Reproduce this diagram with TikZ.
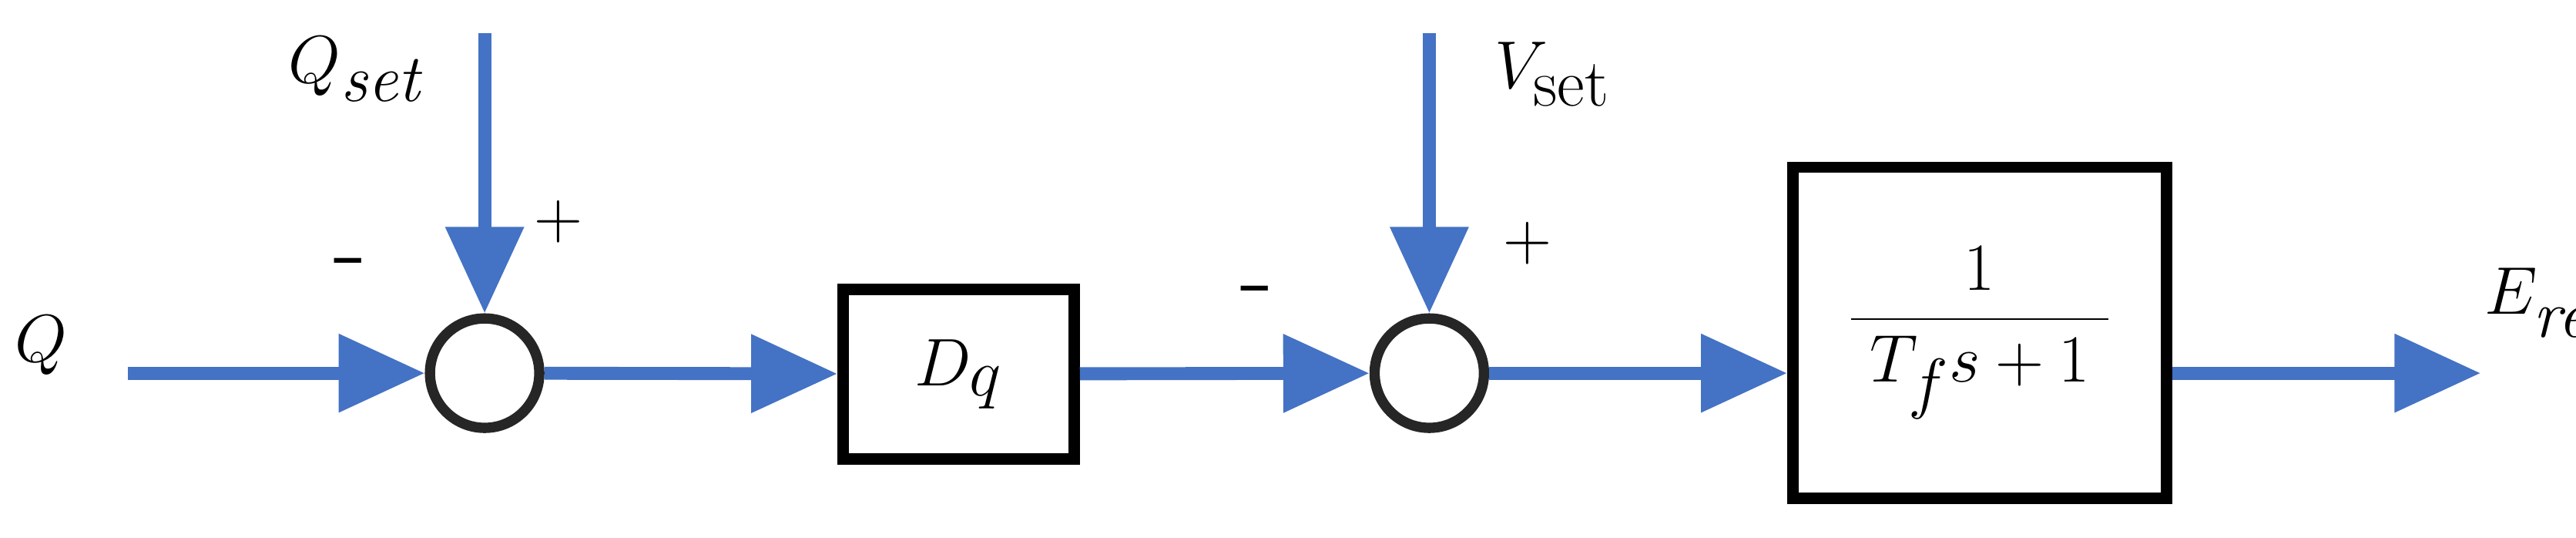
\documentclass[tikz,border=0pt]{standalone}
\usetikzlibrary{arrows.meta}
\definecolor{sig}{HTML}{4472C4}
\begin{document}
\begin{tikzpicture}[x=0.02133cm,y=-0.02133cm,
  sig/.style={draw=sig,line width=4.8pt,-{Triangle[length=1.12cm,width=0.98cm]}},
  sum/.style={circle,draw=black!85,line width=3.8pt,minimum size=1.42cm,inner sep=0pt},
  blk/.style={draw=black,line width=4.2pt,inner sep=0pt},
  lab/.style={font=\fontsize{40}{46}\selectfont,inner sep=0pt}]
\useasboundingbox (0,0) rectangle (1568,327);
\node[sum] (s1) at (295,227) {};
\node[sum] (s2) at (870,227) {};
\node[blk,minimum width=3.0cm,minimum height=2.2cm] (b1) at (583.5,227.5) {};
\node[lab] at (b1) {$D_q$};
\node[blk,minimum width=4.85cm,minimum height=4.3cm] (b2) at (1205,202.5) {};
\node[lab,font=\fontsize{42}{48}\selectfont] at (b2) {$\displaystyle\frac{\;1\;}{\;T_f s+1\;}$};
\coordinate (q) at (78,227);
\coordinate (qs) at (295,20);
\coordinate (vs) at (870,20);
\coordinate (e) at (1510,227);
\draw[sig] (q) -- (s1);
\draw[sig] (qs) -- (s1);
\draw[sig] (s1) -- (b1);
\draw[sig] (b1) -- (s2);
\draw[sig] (vs) -- (s2);
\draw[sig] (s2) -- (b2.west|-s2);
\draw[sig] (b2.east|-s2) -- (e);
\node[lab] (tq) at (25,210) {$Q$};
\node[lab] (tqs) at (218,42) {$Q_{\mathit{set}}$};
\node[lab] (tvs) at (945,45) {$V_{\mathrm{set}}$};
\node[lab,font=\fontsize{34}{40}\selectfont,anchor=west] (te) at (1512,188) {$E_{\mathit{ref}}$};
\node[lab] (p1) at (340,135) {$+$};
\node[lab] (m1) at (213,165) {-};
\node[lab] (p2) at (930,148) {$+$};
\node[lab] (m2) at (765,182) {-};
\end{tikzpicture}
\end{document}
